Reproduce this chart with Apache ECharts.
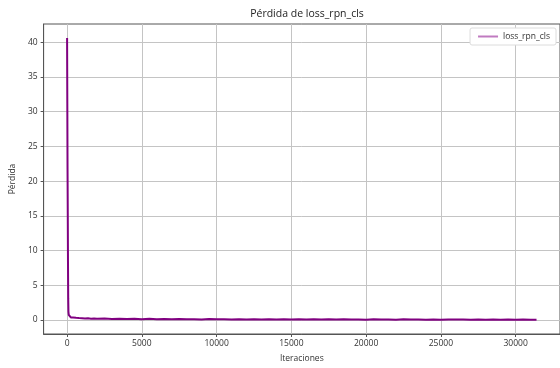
<!DOCTYPE html>
<html>
<head>
<meta charset="utf-8">
<script src="https://cdn.jsdelivr.net/npm/echarts@6/dist/echarts.min.js"></script>
<style>
  html, body { margin: 0; padding: 0; background: #ffffff; }
  #chart { width: 560px; height: 368px; }
</style>
</head>
<body>
<div id="chart"></div>
<script>
// Training log: RPN classification loss per iteration
const iterations = [
  0, 15, 30, 45, 60, 75, 90, 110, 130, 160, 200, 250, 300, 350, 400,
  500, 600, 700, 800, 900, 1000, 1200, 1400, 1600, 1800, 2000,
  2500, 3000, 3500, 4000, 4500, 5000, 5500, 6000, 6500, 7000,
  7500, 8000, 8500, 9000, 9500, 10000, 10500, 11000, 11500, 12000,
  12500, 13000, 13500, 14000, 14500, 15000, 15500, 16000, 16500, 17000,
  17500, 18000, 18500, 19000, 19500, 20000, 20500, 21000, 21500, 22000,
  22500, 23000, 23500, 24000, 24500, 25000, 25500, 26000, 26500, 27000,
  27500, 28000, 28500, 29000, 29500, 30000, 30500, 31000, 31400
];
const lossRpnCls = [
  40.6, 31.2, 21.7, 15.4, 8.3, 3.1, 1.2, 0.74, 0.58, 0.47, 0.42, 0.36, 0.39, 0.31, 0.34,
  0.28, 0.3, 0.24, 0.27, 0.22, 0.25, 0.2, 0.23, 0.18, 0.21, 0.17,
  0.19, 0.14, 0.17, 0.12, 0.16, 0.11, 0.15, 0.1, 0.13, 0.09,
  0.12, 0.08, 0.11, 0.07, 0.12, 0.08, 0.1, 0.06, 0.11, 0.07,
  0.09, 0.06, 0.1, 0.05, 0.09, 0.06, 0.08, 0.05, 0.09, 0.06,
  0.08, 0.05, 0.09, 0.05, 0.07, 0.04, 0.08, 0.05, 0.07, 0.04,
  0.08, 0.05, 0.07, 0.04, 0.06, 0.04, 0.07, 0.05, 0.06, 0.04,
  0.06, 0.03, 0.06, 0.04, 0.05, 0.03, 0.06, 0.04, 0.04
];
const xTicks = [0, 5000, 10000, 15000, 20000, 25000, 30000];
const yTicks = [0, 5, 10, 15, 20, 25, 30, 35, 40];

const seriesData = iterations.map((it, i) => [it, lossRpnCls[i]]);

const FONT = 'Open Sans';
const chart = echarts.init(document.getElementById('chart'), null, { renderer: 'canvas' });

chart.setOption({
  animation: false,
  backgroundColor: '#ffffff',
  title: {
    text: 'Pérdida de loss_rpn_cls',
    left: 302,
    textAlign: 'center',
    top: 4,
    textStyle: { fontFamily: FONT, fontSize: 10.5, fontWeight: 'normal', color: '#222' }
  },
  legend: {
    right: 4,
    top: 28,
    orient: 'vertical',
    backgroundColor: '#ffffff',
    borderColor: '#dcdcdc',
    borderWidth: 1,
    borderRadius: 2,
    padding: [4, 6, 4, 8],
    itemWidth: 20,
    itemHeight: 2,
    icon: 'rect',
    itemStyle: { color: '#c07ac0' },
    textStyle: { fontFamily: FONT, fontSize: 8.5, color: '#333' },
    data: ['loss_rpn_cls']
  },
  grid: {
    left: 42, right: -3, top: 24, bottom: 33, containLabel: false,
    show: true, borderColor: '#555', borderWidth: 1, backgroundColor: 'transparent'
  },
  xAxis: {
    type: 'value',
    min: -1570,
    max: 32970,
    name: 'Iteraciones',
    nameLocation: 'middle',
    nameGap: 20,
    nameTextStyle: { fontFamily: FONT, fontSize: 8.5, color: '#333' },
    axisLine: { show: true, onZero: false, lineStyle: { color: '#555', width: 1 } },
    axisTick: { show: true, length: 3, lineStyle: { color: '#555' }, customValues: xTicks },
    axisLabel: {
      fontFamily: FONT, fontSize: 8.5, color: '#333', margin: 5,
      customValues: xTicks, formatter: v => String(v)
    },
    splitLine: { show: true, lineStyle: { color: '#c4c4c4', width: 1 } }
  },
  yAxis: {
    type: 'value',
    min: -2.03,
    max: 42.63,
    name: 'Pérdida',
    nameLocation: 'middle',
    nameGap: 26,
    nameTextStyle: { fontFamily: FONT, fontSize: 8.5, color: '#333' },
    axisLine: { show: true, onZero: false, lineStyle: { color: '#555', width: 1 } },
    axisTick: { show: true, length: 3, lineStyle: { color: '#555' }, customValues: yTicks },
    axisLabel: {
      fontFamily: FONT, fontSize: 8.5, color: '#333', margin: 6,
      customValues: yTicks, formatter: v => String(v)
    },
    splitLine: { show: true, lineStyle: { color: '#c4c4c4', width: 1 } }
  },
  series: [{
    name: 'loss_rpn_cls',
    type: 'line',
    data: seriesData,
    showSymbol: false,
    symbol: 'none',
    lineStyle: { color: '#800080', width: 2 },
    itemStyle: { color: '#800080' }
  }]
});
</script>
</body>
</html>
